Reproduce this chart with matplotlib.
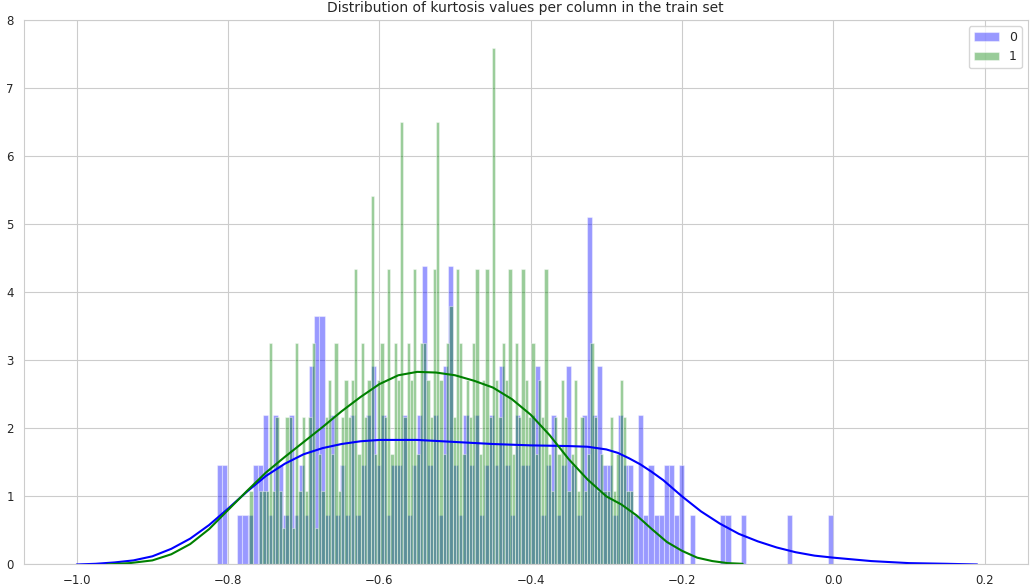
import numpy as np
import matplotlib
matplotlib.use("Agg")
import matplotlib.pyplot as plt
import seaborn as sns

# --- data ---
range0 = (-0.815, 0.0)
counts0 = [2, 2, 0, 0, 1, 1, 1, 2, 2, 3,
           1, 3, 2, 1, 3, 1, 2, 1, 4, 5,
           5, 1, 3, 1, 2, 1, 3, 1, 2, 3,
           4, 2, 3, 1, 2, 2, 3, 1, 2, 3,
           6, 2, 3, 1, 4, 6, 2, 1, 3, 2,
           3, 1, 2, 3, 2, 4, 2, 1, 3, 2,
           2, 3, 4, 1, 2, 3, 1, 2, 4, 2,
           1, 3, 7, 3, 4, 2, 2, 1, 3, 2,
           2, 1, 3, 1, 2, 1, 1, 2, 2, 1,
           2, 0, 1, 0, 0, 0, 0, 0, 1, 1,
           0, 0, 1, 0, 0, 0, 0, 0, 0, 0,
           0, 1, 0, 0, 0, 0, 0, 0, 0, 1]
unit0 = 0.73

range1 = (-0.785, -0.265)
counts1 = [0, 0, 0, 2, 0, 0, 2, 2, 2, 6,
           2, 4, 2, 1, 4, 4, 1, 6, 2, 4,
           2, 4, 6, 1, 3, 2, 4, 5, 3, 6,
           2, 4, 5, 4, 5, 8, 3, 6, 4, 5,
           10, 3, 5, 6, 4, 8, 3, 6, 5, 12,
           4, 6, 5, 8, 3, 6, 6, 5, 4, 8,
           12, 5, 3, 6, 7, 4, 8, 6, 3, 5,
           4, 6, 8, 3, 5, 8, 4, 14, 5, 4,
           6, 5, 8, 3, 6, 4, 8, 5, 4, 6,
           3, 5, 4, 8, 3, 2, 4, 3, 5, 4,
           2, 3, 5, 2, 4, 2, 3, 6, 4, 2,
           3, 2, 2, 4, 2, 3, 5, 4, 2, 2]
unit1 = 0.542

kde0_x = [-1.0, -0.975, -0.95, -0.925, -0.9, -0.875, -0.85, -0.825, -0.8, -0.775, -0.75,
          -0.725, -0.7, -0.675, -0.65, -0.625, -0.6, -0.55, -0.5, -0.45, -0.4, -0.35,
          -0.325, -0.3, -0.285, -0.27, -0.255, -0.24, -0.225, -0.2, -0.175, -0.15,
          -0.125, -0.1, -0.075, -0.05, -0.025, 0.0, 0.05, 0.1, 0.15, 0.19]
kde0_y = [0.0, 0.01, 0.03, 0.06, 0.12, 0.23, 0.38, 0.58, 0.82, 1.07, 1.3,
          1.48, 1.62, 1.71, 1.77, 1.81, 1.83, 1.83, 1.8, 1.77, 1.75, 1.74,
          1.73, 1.69, 1.64, 1.56, 1.47, 1.36, 1.24, 1.0, 0.78, 0.6,
          0.45, 0.34, 0.25, 0.18, 0.13, 0.1, 0.05, 0.02, 0.01, 0.0]
kde1_x = [-0.96, -0.93, -0.9, -0.875, -0.85, -0.825, -0.8, -0.775, -0.75, -0.725, -0.7,
          -0.675, -0.65, -0.625, -0.6, -0.575, -0.55, -0.525, -0.5, -0.475, -0.45,
          -0.425, -0.4, -0.375, -0.35, -0.325, -0.3, -0.28, -0.26, -0.24, -0.22,
          -0.2, -0.18, -0.16, -0.14, -0.12]
kde1_y = [0.0, 0.02, 0.06, 0.15, 0.3, 0.52, 0.8, 1.08, 1.35, 1.58, 1.8,
          2.02, 2.25, 2.46, 2.65, 2.78, 2.83, 2.82, 2.78, 2.7, 2.6,
          2.43, 2.2, 1.9, 1.55, 1.25, 1.0, 0.88, 0.72, 0.52, 0.33,
          0.2, 0.1, 0.05, 0.02, 0.01]

sns.set_style("whitegrid")
fig, ax = plt.subplots(figsize=(10.31, 5.88), dpi=100)

for rng, counts, unit, color, label in [(range0, counts0, unit0, "blue", "0"),
                                        (range1, counts1, unit1, "green", "1")]:
    edges = np.linspace(rng[0], rng[1], len(counts) + 1)
    ax.bar(edges[:-1], np.array(counts) * unit, width=np.diff(edges), align="edge",
           color=color, alpha=0.4, edgecolor="white", linewidth=0.8, label=label)

ax.plot(kde0_x, kde0_y, color="blue", lw=1.5)
ax.plot(kde1_x, kde1_y, color="green", lw=1.5)

ax.set_xlim(-1.07, 0.257)
ax.set_ylim(0, 8.0)
ax.tick_params(labelsize=8.5)
ax.set_title("Distribution of kurtosis values per column in the train set", fontsize=10)
ax.legend(loc="upper right", fontsize=9)
fig.subplots_adjust(left=0.023, right=0.997, bottom=0.04, top=0.966)
fig.savefig("out.png")
